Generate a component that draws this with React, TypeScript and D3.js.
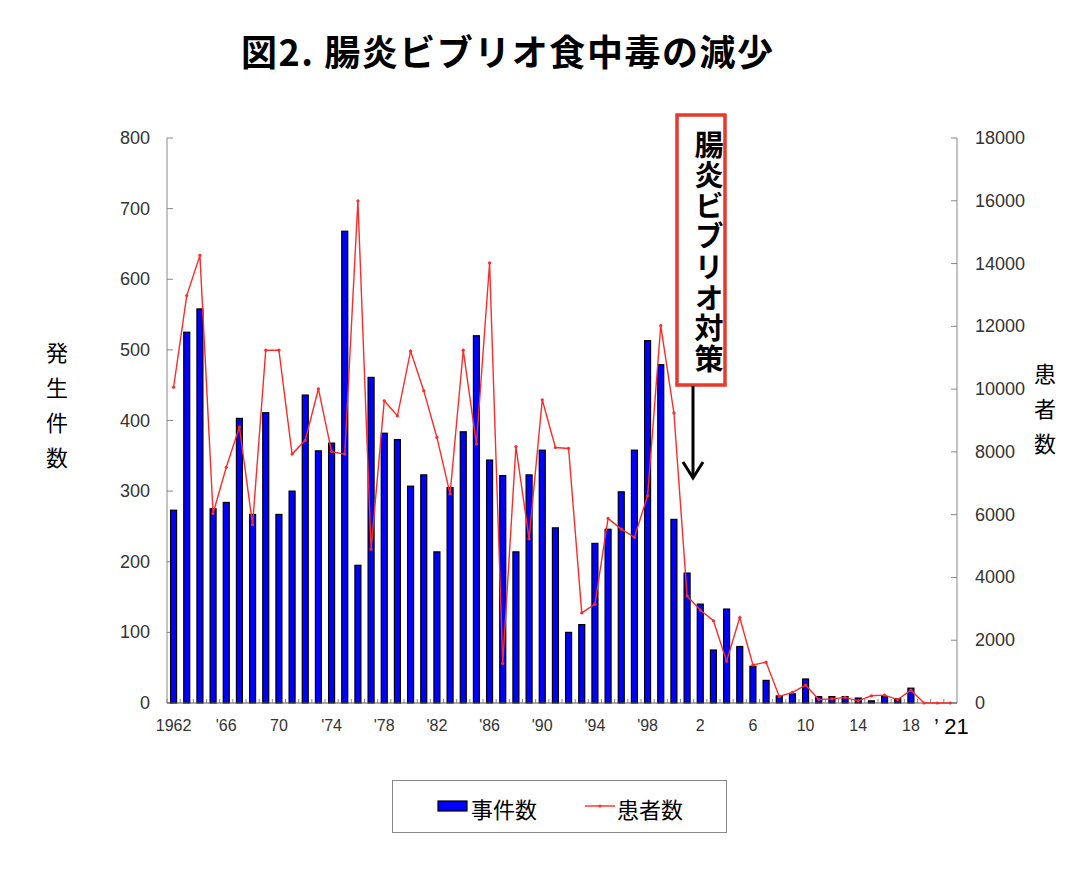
import React, { useEffect, useRef } from "react";
import * as d3 from "d3";

// 1962 - 2021
const years = d3.range(1962, 2022);

const incidents = [
  273, 525, 558, 275, 284, 403, 267, 411, 267, 300,
  436, 357, 368, 668, 195, 461, 382, 373, 307, 323,
  214, 305, 384, 520, 344, 322, 214, 323, 358, 248,
  100, 111, 226, 246, 299, 358, 513, 479, 260, 184,
  140, 75, 133, 80, 52, 32, 10, 13, 34, 9,
  9, 9, 7, 3, 9, 6, 21, 0, 0, 0,
];

const patients = [
  10060, 12980, 14260, 6040, 7510, 8790, 5680, 11240, 11240, 7930,
  8370, 10010, 8010, 7930, 16000, 4900, 9630, 9150, 11210, 9950,
  8460, 6660, 11240, 8250, 14020, 1260, 8170, 5230, 9660, 8140,
  8110, 2870, 3150, 5880, 5540, 5280, 6600, 12020, 9240, 3410,
  2960, 2620, 1330, 2720, 1210, 1300, 210, 340, 570, 110,
  130, 180, 70, 230, 250, 110, 410, 0, 0, 0,
];

const tickYears = [1962, 1966, 1970, 1974, 1978, 1982, 1986, 1990, 1994, 1998, 2002, 2006, 2010, 2014, 2018];
const tickLabels = ["1962", "'66", "70", "'74", "'78", "'82", "'86", "'90", "'94", "'98", "2", "6", "10", "14", "18"];
const leftTicks = [0, 100, 200, 300, 400, 500, 600, 700, 800];
const rightTicks = [0, 2000, 4000, 6000, 8000, 10000, 12000, 14000, 16000, 18000];

const JP = "'Noto Sans CJK JP', sans-serif";
const NUM = "'Liberation Sans', Arial, sans-serif";

const App = () => {
  const ref = useRef<SVGSVGElement>(null);

  useEffect(() => {
    const svg = d3.select(ref.current);
    svg.selectAll("*").remove();

    const left = 167, right = 957, top = 138, bottom = 703;

    const x = d3.scaleBand<number>().domain(years).range([left, right]).padding(0);
    const yL = d3.scaleLinear().domain([0, 800]).range([bottom, top]);
    const yR = d3.scaleLinear().domain([0, 18000]).range([bottom, top]);
    const cx = (yr: number) => (x(yr) as number) + x.bandwidth() / 2;
    const barW = 6;

    // Title
    svg.append("text")
      .attr("x", 507).attr("y", 66)
      .attr("text-anchor", "middle")
      .attr("font-family", JP).attr("font-weight", 700)
      .attr("font-size", 36)
      .attr("textLength", 532).attr("lengthAdjust", "spacing")
      .text("図2. 腸炎ビブリオ食中毒の減少");

    // Axes lines
    svg.append("line").attr("x1", left).attr("x2", left).attr("y1", top).attr("y2", bottom)
      .attr("stroke", "#888").attr("stroke-width", 1);
    svg.append("line").attr("x1", right).attr("x2", right).attr("y1", top).attr("y2", bottom)
      .attr("stroke", "#888").attr("stroke-width", 1);

    // Left ticks
    const lt = svg.append("g");
    lt.selectAll("line").data(leftTicks).join("line")
      .attr("x1", left).attr("x2", left + 6)
      .attr("y1", (d) => yL(d)).attr("y2", (d) => yL(d))
      .attr("stroke", "#888");
    lt.selectAll("text").data(leftTicks).join("text")
      .attr("x", 150).attr("y", (d) => yL(d) + 6)
      .attr("text-anchor", "end")
      .attr("font-family", NUM).attr("font-size", 18).attr("fill", "#333")
      .text((d) => d);

    // Right ticks
    const rt = svg.append("g");
    rt.selectAll("line").data(rightTicks).join("line")
      .attr("x1", right - 6).attr("x2", right)
      .attr("y1", (d) => yR(d)).attr("y2", (d) => yR(d))
      .attr("stroke", "#888");
    rt.selectAll("text").data(rightTicks).join("text")
      .attr("x", 975).attr("y", (d) => yR(d) + 6)
      .attr("font-family", NUM).attr("font-size", 18).attr("fill", "#333")
      .text((d) => d);

    // Axis titles
    svg.append("g").selectAll("text").data("発生件数".split("")).join("text")
      .attr("x", 57).attr("y", (d, i) => 361 + i * 35)
      .attr("text-anchor", "middle")
      .attr("font-family", JP).attr("font-size", 22)
      .text((d) => d);
    svg.append("g").selectAll("text").data("患者数".split("")).join("text")
      .attr("x", 1045).attr("y", (d, i) => 382 + i * 35)
      .attr("text-anchor", "middle")
      .attr("font-family", JP).attr("font-size", 22)
      .text((d) => d);

    // Bars
    svg.append("g").selectAll("rect").data(incidents).join("rect")
      .attr("x", (d, i) => cx(years[i]) - barW / 2)
      .attr("y", (d) => yL(d))
      .attr("width", barW)
      .attr("height", (d) => bottom - yL(d))
      .attr("fill", "#0000ff")
      .attr("stroke", "#000").attr("stroke-width", 1.2);

    // X axis
    svg.append("line").attr("x1", left).attr("x2", right).attr("y1", bottom).attr("y2", bottom)
      .attr("stroke", "#555").attr("stroke-width", 1.2);
    svg.append("g").selectAll("line").data(years).join("line")
      .attr("x1", (d) => x(d) as number).attr("x2", (d) => x(d) as number)
      .attr("y1", bottom).attr("y2", bottom - 4)
      .attr("stroke", "#888");
    svg.append("g").selectAll("text").data(tickYears).join("text")
      .attr("x", (d) => cx(d)).attr("y", 731)
      .attr("text-anchor", "middle")
      .attr("font-family", NUM).attr("font-size", 16).attr("fill", "#333")
      .text((d, i) => tickLabels[i]);
    // last label '21 is drawn larger, apostrophe set apart
    svg.append("text")
      .attr("x", cx(2021) - 14).attr("y", 734)
      .attr("text-anchor", "middle")
      .attr("font-family", NUM).attr("font-size", 22).attr("fill", "#000")
      .text("’");
    svg.append("text")
      .attr("x", cx(2021) + 6).attr("y", 734)
      .attr("text-anchor", "middle")
      .attr("font-family", NUM).attr("font-size", 22).attr("fill", "#000")
      .text("21");

    // Patients line
    const line = d3.line<number>()
      .x((d, i) => cx(years[i]))
      .y((d) => yR(d));
    svg.append("path").datum(patients)
      .attr("d", line)
      .attr("fill", "none")
      .attr("stroke", "#ff2a2a").attr("stroke-width", 1.4);
    svg.append("g").selectAll("circle").data(patients).join("circle")
      .attr("cx", (d, i) => cx(years[i])).attr("cy", (d) => yR(d))
      .attr("r", 1.6).attr("fill", "#ff2a2a");

    // Annotation box
    svg.append("rect")
      .attr("x", 677).attr("y", 115).attr("width", 48).attr("height", 270)
      .attr("fill", "#fff").attr("stroke", "#e8392b").attr("stroke-width", 3.5);
    svg.append("text")
      .attr("x", 709).attr("y", 130)
      .attr("writing-mode", "vertical-rl")
      .attr("font-family", JP).attr("font-weight", 700).attr("font-size", 29)
      .attr("letter-spacing", 1.6)
      .text("腸炎ビブリオ対策");
    svg.append("line").attr("x1", 693).attr("x2", 693).attr("y1", 386).attr("y2", 478)
      .attr("stroke", "#000").attr("stroke-width", 3);
    svg.append("path").attr("d", "M683,462 L693,478 L703,462")
      .attr("fill", "none").attr("stroke", "#000").attr("stroke-width", 3);

    // Legend
    const lg = svg.append("g");
    lg.append("rect").attr("x", 392.5).attr("y", 780.5).attr("width", 334).attr("height", 52)
      .attr("fill", "#fff").attr("stroke", "#888");
    lg.append("rect").attr("x", 438).attr("y", 801).attr("width", 29).attr("height", 10)
      .attr("fill", "#0000ff").attr("stroke", "#000").attr("stroke-width", 1.2);
    lg.append("text").attr("x", 471).attr("y", 818)
      .attr("font-family", JP).attr("font-size", 22).text("事件数");
    lg.append("line").attr("x1", 585).attr("x2", 615).attr("y1", 806).attr("y2", 806)
      .attr("stroke", "#ff2a2a").attr("stroke-width", 1.4);
    lg.append("circle").attr("cx", 600).attr("cy", 806).attr("r", 1.6).attr("fill", "#ff2a2a");
    lg.append("text").attr("x", 617).attr("y", 818)
      .attr("font-family", JP).attr("font-size", 22).text("患者数");
  }, []);

  return (
    <svg
      ref={ref}
      width={1084}
      height={870}
      style={{ position: "absolute", left: 0, top: 0, background: "#fff" }}
    />
  );
};

export default App;
